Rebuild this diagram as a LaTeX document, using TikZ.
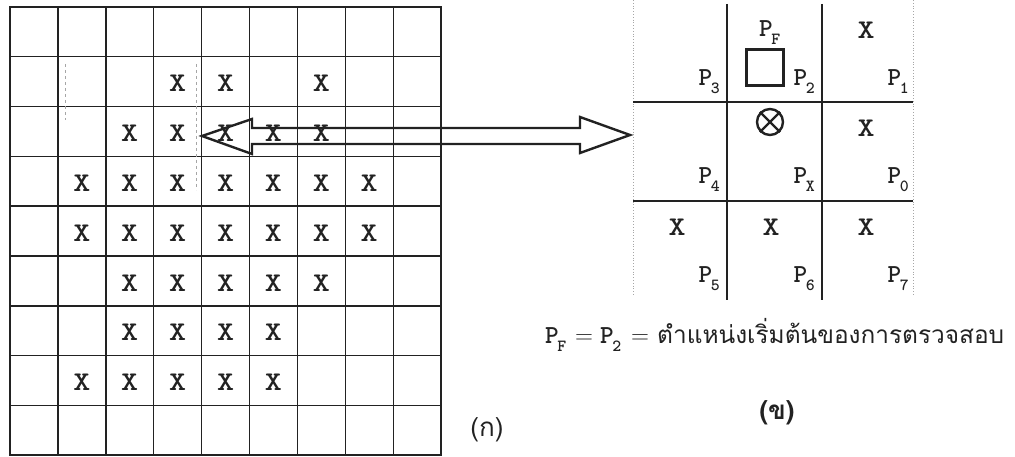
\documentclass[tikz,border=0pt]{standalone}
\usepackage{fontspec}
\usepackage{graphicx}
\newfontfamily\thaifnt[Script=Thai]{Loma}
\newcommand\Psb[1]{P\kern-1.5pt\raisebox{-8pt}{\fontsize{17}{17}\selectfont #1}}
\newcommand\bigX{\scalebox{1.2}[1]{X}}
\definecolor{ink}{HTML}{222222}
\begin{document}
\begin{tikzpicture}[x=1pt,y=-1pt,
  gridline/.style={draw=ink,line width=1.4pt},
  frame/.style={draw=ink,line width=2.8pt},
  xmark/.style={font=\ttfamily\bfseries\fontsize{27}{27}\selectfont,text=ink,inner sep=0},
  plabel/.style={font=\ttfamily\bfseries\fontsize{26}{26}\selectfont,text=ink,inner sep=0,anchor=base east},
  faint/.style={draw=black!35,line width=0.8pt},
  bigarrow/.style={draw=ink,line width=2.4pt,line join=miter},
  thaitext/.style={font=\thaifnt\fontsize{27}{27}\selectfont,text=ink,inner sep=0}]
\useasboundingbox (0,0) rectangle (1015,457);
% ---------- left grid ----------
\foreach \i in {1,...,8}{
  \draw[gridline] ({10+47.9*\i},7) -- ({10+47.9*\i},455);
  \draw[gridline] (10,{7+49.8*\i}) -- (441,{7+49.8*\i});
}
\draw[frame] (10,7) rectangle (441,455);
\foreach \r/\c in {1/3,1/4,1/6,
                   2/2,2/3,2/4,2/5,2/6,
                   3/1,3/2,3/3,3/4,3/5,3/6,3/7,
                   4/1,4/2,4/3,4/4,4/5,4/6,4/7,
                   5/2,5/3,5/4,5/5,5/6,
                   6/2,6/3,6/4,6/5,
                   7/1,7/2,7/3,7/4,7/5}{
  \node[xmark] (L-\r-\c) at ({10+47.9*(\c+0.5)},{7+49.8*(\r+0.5)+2}) {\bigX};
}
% faint dashed window marks
\draw[faint,dashed] (65,64) -- (65,120);
\draw[faint,dashed] (196,64) -- (196,190);
% ---------- double hollow arrow ----------
\coordinate (tipL) at (202,136);
\coordinate (tipR) at (630,135);
\draw[bigarrow] (tipL) -- (252,119) -- (252,128) -- (580,128) -- (580,117)
  -- (tipR) -- (580,153) -- (580,144) -- (252,144) -- (252,154) -- cycle;
% ---------- right 3x3 neighbourhood ----------
\draw[faint,dotted] (633,0) -- (633,296);
\draw[faint,dotted] (913,0) -- (913,296);
\draw[gridline] (727,4) -- (727,300);
\draw[gridline] (822,4) -- (822,300);
\draw[gridline] (633,102) -- (913,102);
\draw[gridline] (633,201) -- (913,201);
% labels
\node[plabel,anchor=base west] (PF) at (759,37) {\Psb{F}};
\node[plabel] (P3) at (720,86) {\Psb{3}};
\node[plabel] (P2) at (815,86) {\Psb{2}};
\node[plabel] (P1) at (909,86) {\Psb{1}};
\node[plabel] (P4) at (720,184) {\Psb{4}};
\node[plabel] (PX) at (815,184) {\Psb{X}};
\node[plabel] (P0) at (909,184) {\Psb{0}};
\node[plabel] (P5) at (720,283) {\Psb{5}};
\node[plabel] (P6) at (815,283) {\Psb{6}};
\node[plabel] (P7) at (909,283) {\Psb{7}};
% marks
\node[xmark] (R1) at (866,30) {\bigX};
\node[xmark] (R0) at (866,128) {\bigX};
\node[xmark] (R5) at (677,227) {\bigX};
\node[xmark] (R6) at (771,227) {\bigX};
\node[xmark] (R7) at (866,227) {\bigX};
\draw[draw=ink,line width=3pt] (746,50) rectangle (783,86);
\node[draw=ink,line width=2.4pt,circle,minimum size=26pt,inner sep=0] (PXmark) at (770,122) {};
\draw[ink,line width=2.4pt] (PXmark.45) -- (PXmark.225) (PXmark.135) -- (PXmark.315);
% ---------- caption ----------
\node[plabel,anchor=base west] (capPF) at (545,343) {\Psb{F}};
\node[font=\fontsize{26}{26}\selectfont,text=ink,inner sep=0,anchor=base] (eq1) at (584,343) {$=$};
\node[plabel,anchor=base west] (capP2) at (600,343) {\Psb{2}};
\node[font=\fontsize{26}{26}\selectfont,text=ink,inner sep=0,anchor=base] (eq2) at (640,343) {$=$};
\node[thaitext,anchor=base west] (capT) at (657,343) {\resizebox{347pt}{!}{ตำแหน่งเริ่มต้นของการตรวจสอบ}};
\node[thaitext,font=\thaifnt\bfseries\fontsize{26}{26}\selectfont] (lblB) at (777,413) {(ข)};
\node[thaitext,font=\thaifnt\fontsize{26}{26}\selectfont] (lblA) at (487,430) {(ก)};
\end{tikzpicture}
\end{document}
